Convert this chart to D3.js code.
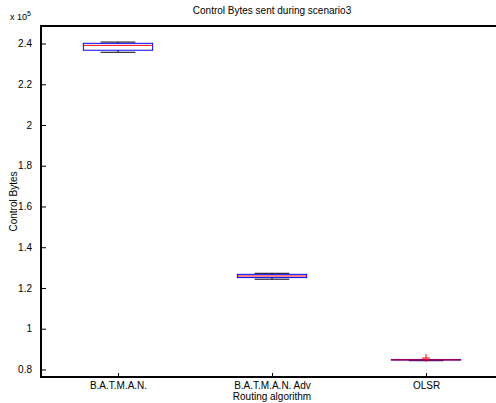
<!DOCTYPE html>
<html><head><meta charset="utf-8">
<script src="https://cdn.jsdelivr.net/npm/d3@7"></script>
<style>html,body{margin:0;padding:0;background:#fff;overflow:hidden}svg{display:block;overflow:hidden}text{font-family:"Liberation Sans",Arial,sans-serif;fill:#000}</style>
</head><body><svg id="c" width="496" height="403"></svg>
<script>
const categories = ["B.A.T.M.A.N.", "B.A.T.M.A.N. Adv", "OLSR"];
// values in units of 1e5 bytes
const lowerWhisker = [2.357, 1.243, 0.843];
const q1 = [2.367, 1.251, 0.846];
const median = [2.391, 1.259, 0.847];
const q3 = [2.401, 1.267, 0.849];
const upperWhisker = [2.407, 1.272, 0.849];
const outliers = [[], [], [0.856]];
const yTicks = [0.8, 1, 1.2, 1.4, 1.6, 1.8, 2, 2.2, 2.4];
const yTickLabels = ["0.8", "1", "1.2", "1.4", "1.6", "1.8", "2", "2.2", "2.4"];

const svg = d3.select("#c");
svg.append("rect").attr("width", 496).attr("height", 403).attr("fill", "#fff");
const L = 41, R = 503, T = 26, B = 377;
const x = d3.scaleLinear().domain([0.5, 3.5]).range([L, R]);
const y = d3.scaleLinear().domain([0.763, 2.486]).range([B, T]);

const yAxis = d3.axisLeft(y).tickValues(yTicks).tickFormat((d, i) => yTickLabels[i]).tickSizeInner(-5).tickSizeOuter(0).tickPadding(9);
const gy = svg.append("g").attr("transform", `translate(${L},0)`).call(yAxis);
gy.select(".domain").remove();
gy.selectAll(".tick line").attr("stroke-width", 1);
gy.selectAll("text").attr("font-size", 10).attr("font-family", "Liberation Sans, Arial, sans-serif");

const xAxis = d3.axisBottom(x).tickValues([1, 2, 3]).tickFormat((d) => categories[d - 1]).tickSizeInner(-4).tickSizeOuter(0).tickPadding(5);
const gx = svg.append("g").attr("transform", `translate(0,${B})`).call(xAxis);
gx.select(".domain").remove();
gx.selectAll("text").attr("font-size", 10).attr("font-family", "Liberation Sans, Arial, sans-serif");

// axes frame: left, bottom, top lines (right edge lies outside the picture)
svg.append("line").attr("x1", L).attr("x2", 560).attr("y1", T).attr("y2", T).attr("stroke", "#000").attr("stroke-width", 2);
svg.append("line").attr("x1", L).attr("x2", 560).attr("y1", B).attr("y2", B).attr("stroke", "#000").attr("stroke-width", 2);
svg.append("line").attr("x1", L).attr("x2", L).attr("y1", T - 1).attr("y2", B + 1).attr("stroke", "#000").attr("stroke-width", 2);

const bw = x(1.225) - x(1);
const cw = bw / 2;
categories.forEach((c, i) => {
  const cx = x(i + 1);
  const g = svg.append("g");
  g.append("line").attr("x1", cx).attr("x2", cx).attr("y1", y(q3[i])).attr("y2", y(upperWhisker[i])).attr("stroke", "#000").attr("stroke-dasharray", "3,2");
  g.append("line").attr("x1", cx).attr("x2", cx).attr("y1", y(q1[i])).attr("y2", y(lowerWhisker[i])).attr("stroke", "#000").attr("stroke-dasharray", "3,2");
  g.append("line").attr("x1", cx - cw).attr("x2", cx + cw).attr("y1", y(upperWhisker[i])).attr("y2", y(upperWhisker[i])).attr("stroke", "#000");
  g.append("line").attr("x1", cx - cw).attr("x2", cx + cw).attr("y1", y(lowerWhisker[i])).attr("y2", y(lowerWhisker[i])).attr("stroke", "#000");
  g.append("rect").attr("x", cx - bw).attr("width", 2 * bw).attr("y", y(q3[i])).attr("height", Math.max(0.5, y(q1[i]) - y(q3[i]))).attr("fill", "none").attr("stroke", "#0000ff");
  g.append("line").attr("x1", cx - bw).attr("x2", cx + bw).attr("y1", y(median[i])).attr("y2", y(median[i])).attr("stroke", "#ff0000");
  outliers[i].forEach(o => {
    g.append("path").attr("d", `M${cx - 4},${y(o)}H${cx + 4}M${cx},${y(o) - 4}V${y(o) + 4}`).attr("stroke", "#ff0000").attr("stroke-width", 1);
  });
});

svg.append("text").attr("x", (L + R) / 2).attr("y", 14).attr("text-anchor", "middle").attr("font-size", 10).text("Control Bytes sent during scenario3");
svg.append("text").attr("x", (L + R) / 2).attr("y", 399.5).attr("text-anchor", "middle").attr("font-size", 10).text("Routing algorithm");
svg.append("text").attr("transform", `translate(17,${(T + B) / 2}) rotate(-90)`).attr("text-anchor", "middle").attr("font-size", 10).text("Control Bytes");
const ex = svg.append("text").attr("x", 10).attr("y", 20).attr("font-size", 9);
ex.append("tspan").text("x 10");
ex.append("tspan").attr("dy", -4).attr("font-size", 7).text("5");
</script></body></html>
